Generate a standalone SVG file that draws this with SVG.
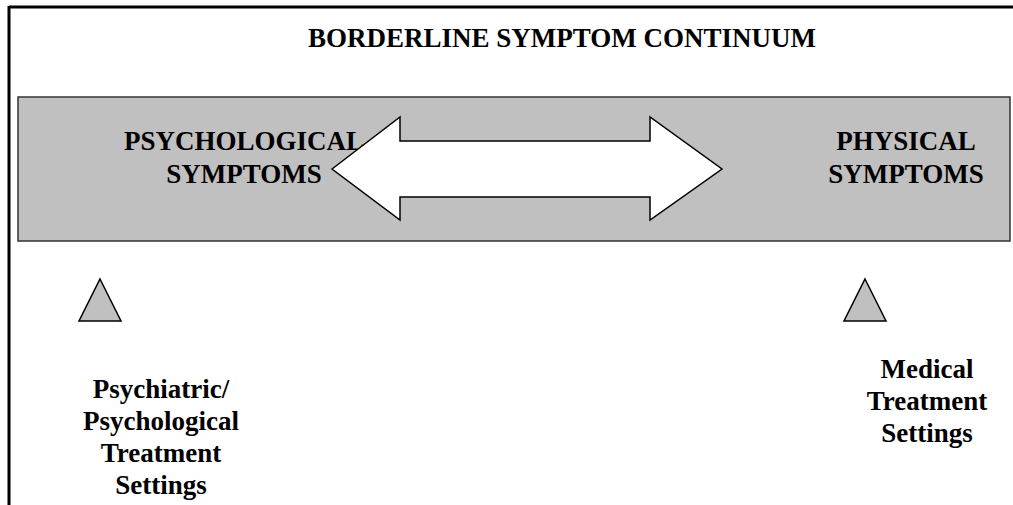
<svg xmlns="http://www.w3.org/2000/svg" width="1013" height="505" viewBox="0 0 1013 505">
<style>
text{font-family:"Liberation Serif","Times New Roman",serif;font-weight:bold;font-size:27px;fill:#000;text-anchor:middle}
.frame{stroke:#000;stroke-width:3;fill:none}
.band{fill:#c0c0c0;stroke:#333;stroke-width:1.5}
.tri{fill:#c0c0c0;stroke:#000;stroke-width:1.5}
.arrow{fill:#fff;stroke:#000;stroke-width:1.5}
</style>
<g id="frame">
<line class="frame" x1="9" y1="7" x2="1013" y2="7"/>
<line class="frame" x1="9" y1="6" x2="9" y2="505"/>
</g>
<g id="title"><text x="562" y="47">BORDERLINE SYMPTOM CONTINUUM</text></g>
<g id="continuum">
<rect class="band" x="18" y="97" width="992" height="144"/>
</g>
<g id="psychological"><text x="244" y="150">PSYCHOLOGICAL</text><text x="244" y="183">SYMPTOMS</text></g>
<g id="physical"><text x="906" y="150">PHYSICAL</text><text x="906" y="183">SYMPTOMS</text></g>
<g id="connectors">
<polygon class="arrow" points="332,169 400,117 400,141 650,141 650,117 722,169 650,220 650,197 400,197 400,220"/>
</g>
<g id="psych-settings">
<polygon class="tri" points="100,279 121,321 79,321"/>
<text x="161" y="398">Psychiatric/</text>
<text x="161" y="430">Psychological</text>
<text x="161" y="462">Treatment</text>
<text x="161" y="494">Settings</text>
</g>
<g id="medical-settings">
<polygon class="tri" points="865,279 886,321 844,321"/>
<text x="927" y="378">Medical</text>
<text x="927" y="410">Treatment</text>
<text x="927" y="442">Settings</text>
</g>
</svg>
